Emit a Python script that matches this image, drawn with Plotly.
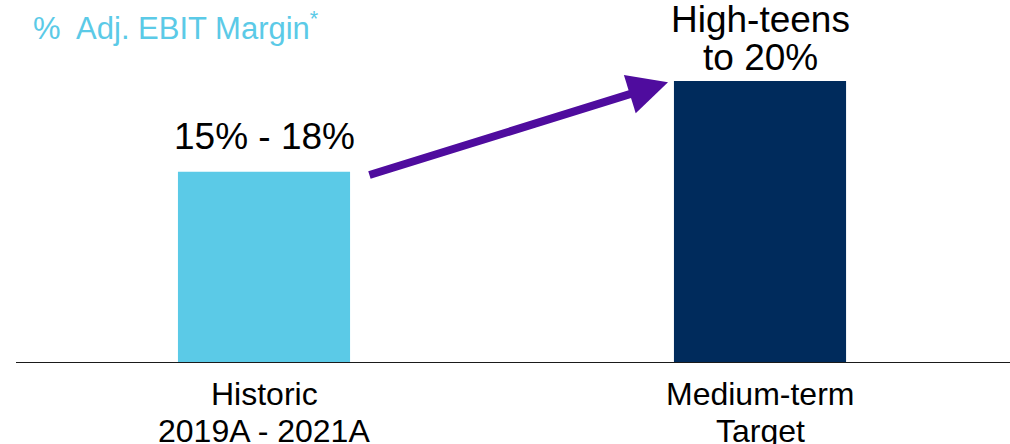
import plotly.graph_objects as go

categories = [["Historic", "2019A - 2021A"], ["Medium-term", "Target"]]
positions = [0, 1]
values = [15.8, 23.3]
bar_labels = [["15% - 18%"], ["High-teens", "to 20%"]]
bar_colors = ["#5BCAE7", "#002B5C"]
title_text = "%  Adj. EBIT Margin<sup>*</sup>"

FONT = "Liberation Sans, Arial, sans-serif"
bar_w = 0.347

fig = go.Figure()
fig.add_trace(go.Bar(x=positions, y=values, width=bar_w,
                     marker=dict(color=bar_colors, line=dict(width=0)),
                     hoverinfo="skip"))

# labels above bars (one annotation per line, bottom line first)
label_shift = [[35], [24, 62]]
for xi, vi, lines, shifts in zip(positions, values, bar_labels, label_shift):
    for txt, sh in zip(reversed(lines), shifts):
        fig.add_annotation(x=xi, y=vi, xref="x", yref="y", text=txt,
                           showarrow=False, yanchor="middle", yshift=sh,
                           font=dict(family=FONT, size=37, color="#000000"))

# category labels below the axis (one annotation per line)
cat_shift = [-31, -68]
for xi, lines in zip(positions, categories):
    for txt, sh in zip(lines, cat_shift):
        fig.add_annotation(x=xi, y=0, xref="x", yref="y", text=txt,
                           showarrow=False, yanchor="middle", yshift=sh,
                           font=dict(family=FONT, size=32, color="#000000"))

# arrow from first bar to second bar
gap_tail = 0.036
gap_head = 0.012
fig.add_annotation(x=positions[1] - bar_w / 2 - gap_head, y=values[1] - 0.1,
                   ax=positions[0] + bar_w / 2 + gap_tail, ay=values[0] - 0.3,
                   xref="x", yref="y", axref="x", ayref="y",
                   showarrow=True, arrowhead=2, arrowsize=1.0, arrowwidth=8,
                   arrowcolor="#4F0C9E", text="")

fig.add_annotation(x=0, y=1, xref="paper", yref="paper", xanchor="left", yanchor="middle",
                   text=title_text, showarrow=False, xshift=15, yshift=-26,
                   font=dict(family=FONT, size=31, color="#5BCAE7"))

fig.update_layout(
    width=1010, height=444,
    margin=dict(l=16, r=0, t=0, b=81),
    paper_bgcolor="white", plot_bgcolor="white",
    showlegend=False,
    xaxis=dict(range=[-0.5, 1.504], showticklabels=False, automargin=False,
               showgrid=False, zeroline=False, showline=False, ticks="",
               fixedrange=True),
    yaxis=dict(range=[0, 30], visible=False, showgrid=False, zeroline=False,
               automargin=False, fixedrange=True),
    shapes=[dict(type="line", xref="paper", yref="y", x0=0, x1=1, y0=0, y1=0,
                 line=dict(color="#1a1a1a", width=2))],
)

fig.write_html("out.html", config={"displayModeBar": False},
               post_script="document.body.style.margin='0px';document.body.style.overflow='hidden';")
